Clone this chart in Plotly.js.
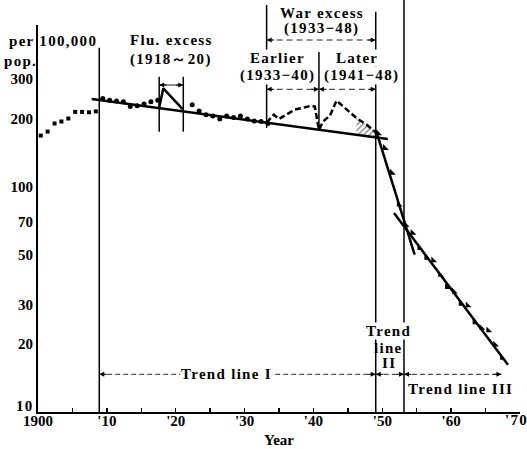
<!DOCTYPE html>
<html><head><meta charset="utf-8">
<script src="https://cdn.plot.ly/plotly-3.0.1.min.js"></script>
<style>
html,body{margin:0;padding:0;background:#fff;}
text.annotation-text{letter-spacing:1.3px;}
</style>
</head><body>
<div id="chart" style="width:527px;height:449px;"></div>
<script>
// ---- data ----
const MID = 0.4; // plotting position of an annual value within its year
const earlyYears = [1900,1901,1902,1903,1904,1905,1906,1907,1908];
const earlyRates = [168,175,190,194,200,214,214,213,215];
const midYears = [1909,1910,1911,1912,1913,1914,1915,1916,1917,1922,1923,1924,1925,1926,1927,1928,1929,1930,1931,1932,1933];
const midRates = [245,241,239,237,226,228,232,237,241,230,216,208,205,199,205,202,205,199,195,194,190];
const lateYears = [1949,1950,1951,1952,1953,1954,1955,1956,1957,1958,1959,1960,1961,1962,1963,1964,1965,1966,1967];
const lateRates = [172,148,115,83,67.6,62.2,53.3,48.2,47.0,40.6,35.8,34.2,30.2,29.7,25.0,23.6,23.0,19.9,17.4];
const fluX = [1917.6,1918.2,1921.0];
const fluY = [224,272,220];
const warX = [1933.2,1934.25,1935.0,1937.3,1938.5,1939.7,1940.2,1940.8,1941.4,1942.4,1943.35,1944.8,1946.25,1947.7,1948.9,1949.4];
const warY = [192,208,199,219,223,228,226,178,194,206,240,219,201,188,175,167];
const trend1X = [1907.8,1950.8], trend1Y = [244,162.3];
const trend2X = [1949.1,1954.7], trend2Y = [176.6,49.8];
const trend3X = [1951.7,1968.25], trend3Y = [76.2,16.2];
const hatchFrom = 1946.25;
const bStart = 1908.9, fluFrom = 1917.6, fluTo = 1921.1, warFrom = 1933.2, warSplit = 1940.8, warTo = 1949.05, t3From = 1953.15, t3To = 1967.3;
const xTickVals = [1900,1905,1910,1915,1920,1925,1930,1935,1940,1945,1950,1955,1960,1965,1970];
const xTickText = ['1900','',"'10",'',"'20",'',"'30",'',"'40",'',"'50",'',"'60",'',"'70"];
const yTickVals = [10,20,30,50,70,100,200,300];
const yTickText = ['10','20','30','50','70','100','200','300'];

// ---- helpers ----
const FONT = {family:'"Liberation Serif","Times New Roman",serif', size:15, color:'#000', weight:'bold'};
const P = px => (412 - px) / 387;      // pixel row -> paper y
const X = px => (px - 38) / 482;       // pixel col -> paper x
function trendAt(x){ // log-linear interpolation on trend I
  const t = (x - trend1X[0]) / (trend1X[1] - trend1X[0]);
  return Math.pow(10, Math.log10(trend1Y[0]) + t * (Math.log10(trend1Y[1]) - Math.log10(trend1Y[0])));
}

const traces = [];
// hatched war excess region
const hx = [], hy = [];
warX.forEach((x,i)=>{ if (x >= hatchFrom) { hx.push(x); hy.push(warY[i]); } });
const hxBack = hx.slice().reverse();
traces.push({x: hx.concat(hxBack), y: hy.concat(hxBack.map(trendAt)), mode:'lines', fill:'toself',
  fillcolor:'rgba(0,0,0,0)', fillpattern:{shape:'/', size:4, fgcolor:'#777', bgcolor:'#fff', solidity:0.3},
  line:{width:0}, hoverinfo:'skip'});
// trend lines
[[trend1X,trend1Y],[trend2X,trend2Y],[trend3X,trend3Y]].forEach(([x,y])=>{
  traces.push({x, y, mode:'lines', line:{color:'#000', width:2.5}});
});
// flu excess triangle
traces.push({x: fluX, y: fluY, mode:'lines', line:{color:'#000', width:2.5}});
// war excess dashed curve
traces.push({x: warX, y: warY, mode:'lines', line:{color:'#000', width:2.5, dash:'6px,3px'}});
// annual points
traces.push({x: earlyYears.map(v=>v+MID), y: earlyRates, mode:'markers', marker:{symbol:'square', size:4, color:'#000'}});
traces.push({x: midYears.map(v=>v+MID), y: midRates, mode:'markers', marker:{symbol:'circle', size:5, color:'#000'}});
traces.push({x: lateYears.map(v=>v+MID), y: lateRates, mode:'markers', marker:{symbol:'triangle-sw', size:6.5, color:'#000'}});

const shapes = [];
const annotations = [];
function vline(x, yTopPx, yBotPx){
  shapes.push({type:'line', xref:'x', yref:'paper', x0:x, x1:x, y0:P(yBotPx), y1:P(yTopPx), line:{color:'#000', width:1.5}});
}
vline(bStart, 47.7, 412);
vline(fluFrom, 76.7, 131.7);
vline(fluTo, 76.7, 131.7);
vline(warFrom, 5, 128);
vline(warSplit, 52, 130);
vline(warTo, 11.7, 412);
vline(t3From, 0, 412);

function dimArrow(x0, x1, ypx, dash){
  shapes.push({type:'line', xref:'x', yref:'paper', x0, x1, y0:P(ypx), y1:P(ypx), line:{color:'#222', width:1, dash}});
  annotations.push({x:x0, y:P(ypx), xref:'x', yref:'paper', text:'', showarrow:true, ax:9, ay:0, arrowhead:2, arrowsize:1, arrowwidth:1, arrowcolor:'#000'});
  annotations.push({x:x1, y:P(ypx), xref:'x', yref:'paper', text:'', showarrow:true, ax:-9, ay:0, arrowhead:2, arrowsize:1, arrowwidth:1, arrowcolor:'#000'});
}
dimArrow(fluFrom, fluTo, 85, 'solid');
dimArrow(warFrom, warTo, 40, '6px,4px');
dimArrow(warFrom, warSplit, 89.3, '6px,4px');
dimArrow(warSplit, warTo, 89.3, '6px,4px');
dimArrow(bStart, warTo, 374.3, '5px,3px');
dimArrow(warTo, t3From, 374.3, '5px,3px');
dimArrow(t3From, t3To, 374.3, '5px,3px');

function label(text, xpx, ypx, anchor, bg){
  annotations.push({text, x:X(xpx), y:P(ypx), xref:'paper', yref:'paper', xanchor:anchor||'center', yanchor:'middle',
    showarrow:false, font:FONT, bgcolor: bg ? '#fff' : 'rgba(0,0,0,0)', borderpad:0});
}
label('per 100,000', 8, 41, 'left');
label('pop.', 37.5, 61, 'right');
label('Flu. excess', 171, 40);
label('(1918～20)', 170.5, 59);
label('War excess', 321.5, 12.5);
label('(1933−48)', 321, 28.5);
label('Earlier', 277.5, 58, 'center', true);
label('(1933−40)', 277.5, 75.5, 'center', true);
label('Later', 357, 58, 'center', true);
label('(1941−48)', 361, 75.5, 'center', true);
label('Trend line I', 226, 374.3, 'center', true);
label('Trend', 388, 331, 'center', true);
label('line', 388.5, 348);
label('II', 389, 363);
label('Trend line III', 460, 388.7);

// corner tick labels: drawn as annotations so they neither clip nor collide
const lastTick = xTickText[xTickText.length - 1];
const xTickTextShown = xTickText.slice(0, -1).concat(['']);
annotations.push({text:lastTick, x:1.0, y:P(420), xref:'paper', yref:'paper', xanchor:'center', yanchor:'middle',
  xshift:-4, showarrow:false, font:FONT});
const firstY = yTickText[0];
const yTickTextShown = [''].concat(yTickText.slice(1));
annotations.push({text:firstY, x:X(36), y:P(406), xref:'paper', yref:'paper', xanchor:'right', yanchor:'middle',
  showarrow:false, font:FONT});

const layout = {
  width:527, height:449,
  margin:{l:38, r:7, t:25, b:37},
  paper_bgcolor:'#fff', plot_bgcolor:'#fff',
  showlegend:false,
  font: FONT,
  xaxis:{range:[1900,1970], tickvals:xTickVals, ticktext:xTickTextShown, ticks:'inside', ticklen:4, tickwidth:1.5, tickcolor:'#000',
    showline:true, linewidth:2, linecolor:'#000', showgrid:false, zeroline:false, tickfont:FONT, ticklabelstandoff:-6,
    title:{text:'Year', font:FONT, standoff:6}},
  yaxis:{type:'log', range:[1, 1 + 387/225.6], tickvals:yTickVals, ticktext:yTickTextShown, ticks:'',
    showline:true, linewidth:2, linecolor:'#000', showgrid:false, zeroline:false, tickfont:FONT},
  shapes, annotations
};
Plotly.newPlot('chart', traces, layout, {staticPlot:true, displayModeBar:false});
</script>
</body></html>
